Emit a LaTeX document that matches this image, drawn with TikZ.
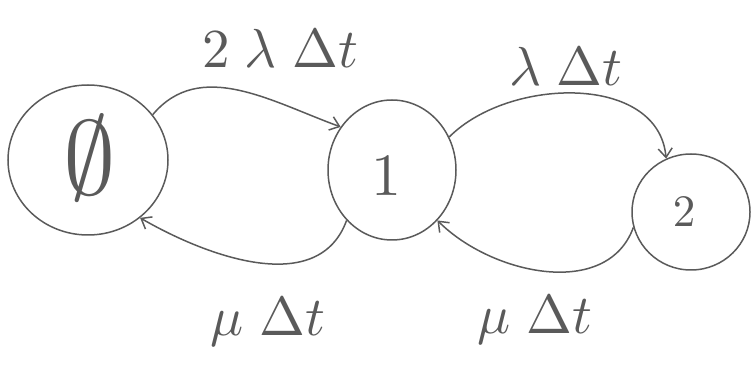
\documentclass[tikz,border=0pt]{standalone}
\usepackage{graphicx}
\usetikzlibrary{shapes.geometric,arrows.meta}
\definecolor{pencil}{HTML}{5A5A5A}
\tikzset{
  statenode/.style={ellipse, draw=pencil, line width=1.5pt, inner sep=0pt},
  trans/.style={draw=pencil, line width=1.5pt, -{Straight Barb[length=9pt,width=14pt,line width=1.5pt]}},
  lab/.style={text=pencil, inner sep=0pt}
}
\begin{document}
\begin{tikzpicture}[x=1pt,y=-1pt]
\useasboundingbox (0,0) rectangle (755,387);
\node[statenode, minimum width=160pt, minimum height=150pt] (n0) at (88,160) {};
\node[lab] (t0) at (90,158) {\scalebox{10.5}{$\emptyset$}};
\node[statenode, minimum width=128pt, minimum height=140pt] (n1) at (392,170) {};
\node[lab] (t1) at (386,176) {\scalebox{6}{$1$}};
\node[statenode, minimum width=118pt, minimum height=116pt] (n2) at (691,212) {};
\node[lab] (t2) at (684,212) {\scalebox{4.5}{$2$}};

\node[lab] (l01) at (280,48) {\scalebox{5.5}{$2\;\lambda\;\Delta t$}};
\node[lab] (l12) at (566,66) {\scalebox{5.5}{$\lambda\;\Delta t$}};
\node[lab] (l10) at (268,322) {\scalebox{5.5}{$\mu\;\Delta t$}};
\node[lab] (l21) at (535,320) {\scalebox{5.5}{$\mu\;\Delta t$}};

\draw[trans] (n0.35) to[out=50,in=160] (n1.140);
\draw[trans] (n1.30) to[out=45,in=95] (n2.115);
\draw[trans] (n1.228) to[out=-110,in=-30] (n0.312);
\draw[trans] (n2.195) to[out=-110,in=-45] (n1.312);
\end{tikzpicture}
\end{document}
